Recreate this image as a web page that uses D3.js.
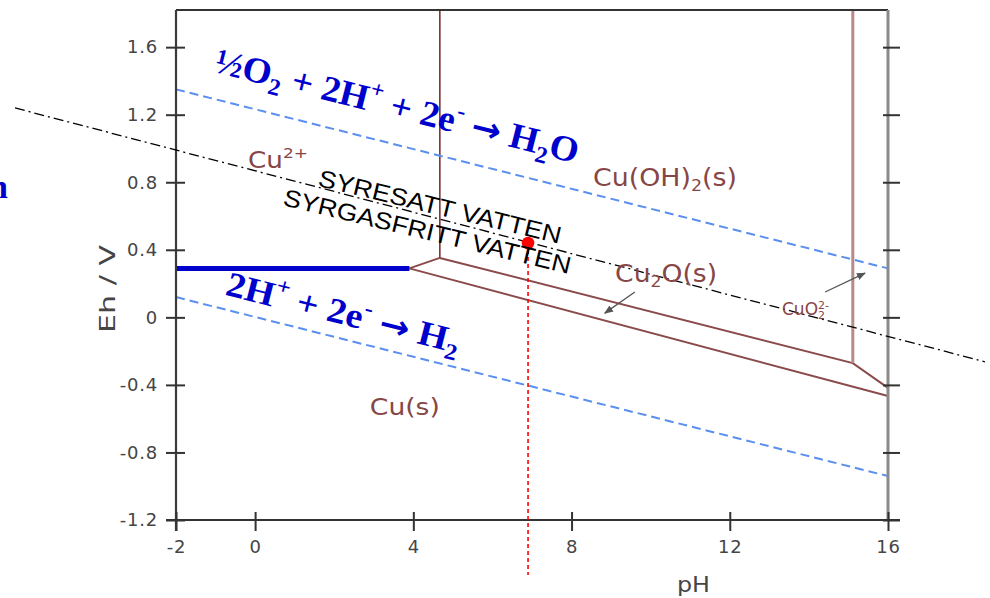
<!DOCTYPE html>
<html><head><meta charset="utf-8">
<script src="https://cdn.jsdelivr.net/npm/d3@7"></script>
<style>body{margin:0;background:#fff;overflow:hidden} svg{display:block}</style>
</head><body>
<svg id="c" width="990" height="598"></svg>
<script>
// ---- data (pH, Eh / V) ----
const xTicks = [-2, 0, 4, 8, 12, 16];
const yTicks = [-1.2, -0.8, -0.4, 0, 0.4, 0.8, 1.2, 1.6];
const xDomain = [-2, 16];
const yDomain = [-1.2, 1.82];
const o2Line = [[-2, 1.35], [16, 0.29]];
const h2Line = [[-2, 0.12], [16, -0.94]];
const cuIonLine = [[-2, 0.29], [3.9, 0.29]];
const cu2OJoin = [[3.9, 0.29], [4.67, 0.352]];
const cuOH2Boundary = [[4.67, 0.352], [4.67, 1.82]];
const cu2OUpper = [[4.67, 0.352], [15.11, -0.271], [16, -0.418]];
const cu2OLower = [[3.9, 0.29], [16, -0.466]];
const cuO2Boundary = [[15.11, -0.271], [15.11, 1.82]];
const naturalWater = [[-6.07, 1.24], [18.45, -0.263]];
const samplePoint = [6.9, 0.44];
const sampleDrop = [[6.9, 0.44], [6.9, -1.525]];
const cu2OArrow = [[9.6, 0.15], [8.84, 0.025]];
const cuO2Arrow = [[14.41, 0.15], [15.42, 0.262]];

const svg = d3.select('#c');
const x = d3.scaleLinear().domain(xDomain).range([176, 888]);
const y = d3.scaleLinear().domain(yDomain).range([520, 10]);
const line = d3.line().x(d => x(d[0])).y(d => y(d[1]));

const BROWN = '#8a4a4a', BLUE = '#0000cc', LBLUE = '#5a8ff0', TXT = '#454545';

svg.append('defs').append('marker').attr('id', 'ah')
  .attr('viewBox', '0 0 10 10').attr('refX', 9).attr('refY', 5)
  .attr('markerWidth', 7).attr('markerHeight', 7).attr('orient', 'auto')
  .append('path').attr('d', 'M0,1 L10,5 L0,9 Z').attr('fill', '#555');

// ---- Pourbaix boundaries ----
const bnd = svg.append('g').attr('fill', 'none');
bnd.append('path').attr('d', line(cuIonLine)).attr('stroke', BROWN).attr('stroke-width', 2);
bnd.append('path').attr('d', line(cu2OJoin)).attr('stroke', BROWN).attr('stroke-width', 2);
bnd.append('path').attr('d', line(cuOH2Boundary)).attr('stroke', '#7a3434').attr('stroke-width', 1.6);
bnd.append('path').attr('d', line(cu2OUpper)).attr('stroke', BROWN).attr('stroke-width', 2);
bnd.append('path').attr('d', line(cu2OLower)).attr('stroke', BROWN).attr('stroke-width', 2);
bnd.append('path').attr('d', line(cuO2Boundary)).attr('stroke', '#b88a8a').attr('stroke-width', 3);

// water lines
svg.append('path').attr('d', line(o2Line)).attr('fill', 'none').attr('stroke', LBLUE).attr('stroke-width', 2).attr('stroke-dasharray', '9,5');
svg.append('path').attr('d', line(h2Line)).attr('fill', 'none').attr('stroke', LBLUE).attr('stroke-width', 2).attr('stroke-dasharray', '9,5');

// thick blue Cu2+/Cu line
svg.append('path').attr('d', line(cuIonLine)).attr('fill', 'none').attr('stroke', BLUE).attr('stroke-width', 5);

// small arrows
svg.append('path').attr('d', line(cu2OArrow)).attr('stroke', '#555').attr('stroke-width', 1.3).attr('marker-end', 'url(#ah)');
svg.append('path').attr('d', line(cuO2Arrow)).attr('stroke', '#555').attr('stroke-width', 1.3).attr('marker-end', 'url(#ah)');

// ---- axes / frame ----
svg.append('line').attr('x1', x(xDomain[0])).attr('x2', x(xDomain[1])).attr('y1', y(yDomain[1])).attr('y2', y(yDomain[1])).attr('stroke', '#333').attr('stroke-width', 2);
svg.append('line').attr('x1', x(xDomain[1])).attr('x2', x(xDomain[1])).attr('y1', y(yDomain[1])).attr('y2', y(yDomain[0])).attr('stroke', '#8a8a8a').attr('stroke-width', 3);

const fmt = d => String(d);
const gl = svg.append('g').attr('transform', `translate(${x(xDomain[0])},0)`)
  .call(d3.axisLeft(y).tickValues(yTicks).tickFormat(fmt).tickSize(10).tickPadding(8));
gl.select('.domain').attr('d', `M0,${y(yDomain[1])}V${y(yDomain[0]) + 11}`).attr('stroke', '#3a3a3a').attr('stroke-width', 2.2);
gl.selectAll('.tick line').attr('x1', 9).attr('stroke', '#333').attr('stroke-width', 2);

const gb = svg.append('g').attr('transform', `translate(0,${y(yDomain[0])})`)
  .call(d3.axisBottom(x).tickValues(xTicks).tickFormat(fmt).tickSize(11).tickPadding(9));
gb.select('.domain').attr('d', `M${x(xDomain[0]) - 10},0H${x(xDomain[1]) + 12}`).attr('stroke', '#333').attr('stroke-width', 2);
gb.selectAll('.tick line').attr('y1', -8).attr('stroke', '#333').attr('stroke-width', 2);

const gr = svg.append('g').attr('transform', `translate(${x(xDomain[1])},0)`)
  .call(d3.axisRight(y).tickValues(yTicks).tickFormat('').tickSize(12));
gr.select('.domain').remove();
gr.selectAll('.tick line').attr('x1', -5).attr('stroke', '#333').attr('stroke-width', 2);

[gl, gb].forEach(g => g.selectAll('.tick text')
  .attr('font-family', 'DejaVu Sans').attr('font-size', 18).attr('fill', TXT).attr('letter-spacing', 0.8));

svg.append('text').attr('transform', 'translate(115,289) rotate(-90)').attr('text-anchor', 'middle')
  .attr('font-family', 'DejaVu Sans').attr('font-size', 21).attr('fill', TXT)
  .attr('textLength', 88).attr('lengthAdjust', 'spacingAndGlyphs').text('Eh / V');
svg.append('text').attr('x', 677).attr('y', 592)
  .attr('font-family', 'DejaVu Sans').attr('font-size', 22).attr('fill', TXT)
  .attr('textLength', 33).attr('lengthAdjust', 'spacingAndGlyphs').text('pH');

// natural water line (dash-dot)
svg.append('path').attr('d', line(naturalWater)).attr('fill', 'none').attr('stroke', '#000').attr('stroke-width', 1.3).attr('stroke-dasharray', '10,4,2,4');

// sample
svg.append('path').attr('d', line(sampleDrop)).attr('fill', 'none').attr('stroke', '#ff0000').attr('stroke-width', 1.6).attr('stroke-dasharray', '4,3');
svg.append('circle').attr('cx', x(samplePoint[0])).attr('cy', y(samplePoint[1])).attr('r', 6.3).attr('fill', '#ff0000');

// ---- rich text helper ----
function rich(g, parts, size) {
  let shift = 0;
  parts.forEach(p => {
    const kind = p[1];
    const target = kind === 'sub' ? 0.22 * size : kind === 'sup' ? -0.42 * size : kind === 'sub2' ? 0.25 * size : kind === 'sup2' ? -0.38 * size : 0;
    const t = g.append('tspan').attr('dy', target - shift).attr('font-size', kind && kind !== 'arrow' ? size * 0.65 : size).text(p[0]);
    if (kind === 'arrow') t.attr('font-family', 'DejaVu Sans').attr('font-size', size * 0.95);
    if (p[2]) t.attr('dx', p[2]);
    shift = target;
  });
}
function label(pH, eh, angle, opts, parts) {
  const t = svg.append('text')
    .attr('transform', `translate(${x(pH)},${y(eh)}) rotate(${angle})`)
    .attr('font-family', opts.family).attr('font-size', opts.size).attr('fill', opts.fill)
    .attr('font-weight', opts.weight || 'normal');
  if (opts.len) t.attr('textLength', opts.len).attr('lengthAdjust', 'spacingAndGlyphs');
  rich(t, parts, opts.size);
  return t;
}

const serifB = { family: 'Liberation Serif', weight: 'bold', fill: BLUE };
label(-1.065, 1.455, 14.2, { ...serifB, size: 36, len: 374 },
  [['½O'], ['2', 'sub'], [' + 2H'], ['+', 'sup'], [' + 2e'], ['-', 'sup'], [' '], ['→', 'arrow'], [' H'], ['2', 'sub'], ['O']]);
label(-0.78, 0.135, 14.2, { ...serifB, size: 35, len: 240 },
  [['2H'], ['+', 'sup'], [' + 2e'], ['-', 'sup'], [' '], ['→', 'arrow'], [' H'], ['2', 'sub']]);
svg.append('text').attr('x', -11).attr('y', 198).attr('font-family', 'Liberation Serif').attr('font-weight', 'bold')
  .attr('font-size', 34).attr('fill', BLUE).text('n');

const sans = { family: 'Liberation Sans', fill: '#000' };
label(1.564, 0.78, 13.5, { ...sans, size: 24, len: 249 }, [['SYRESATT VATTEN']]);
label(0.68, 0.665, 13.5, { ...sans, size: 24, len: 295 }, [['SYRGASFRITT VATTEN']]);

const br = { family: 'DejaVu Sans', fill: '#874646' };
label(-0.18, 0.884, 0, { ...br, size: 23, len: 60 }, [['Cu'], ['2+', 'sup']]);
label(8.54, 0.777, 0, { ...br, size: 24, len: 144 }, [['Cu(OH)'], ['2', 'sub'], ['(s)']]);
label(9.10, 0.209, 0, { ...br, size: 24, len: 102 }, [['Cu'], ['2', 'sub'], ['O(s)']]);
label(2.90, -0.578, 0, { ...br, size: 23, len: 70 }, [['Cu(s)']]);
label(13.32, 0.014, 0, { ...br, size: 17 }, [['CuO'], ['2', 'sub2'], ['2-', 'sup2', -7]]);
</script>
</body></html>
